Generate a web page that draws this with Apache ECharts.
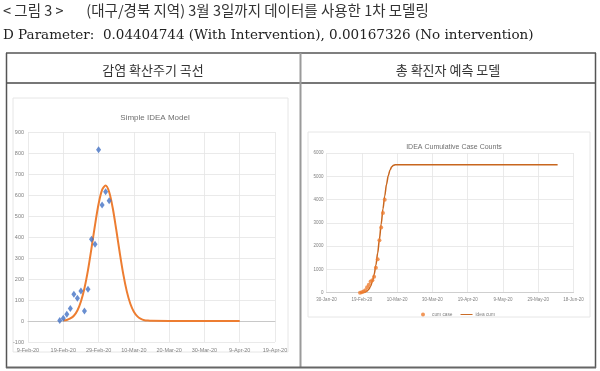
<!DOCTYPE html>
<html><head><meta charset="utf-8">
<script src="https://cdn.jsdelivr.net/npm/echarts@6/dist/echarts.min.js"></script>
<style>html,body{margin:0;padding:0;background:#fff}#c{width:600px;height:371px}</style>
</head><body><div id="c"></div>
<script>
// ---- data ----
const caseDates = ['2020-02-18','2020-02-19','2020-02-20','2020-02-21','2020-02-22','2020-02-23','2020-02-24','2020-02-25','2020-02-26','2020-02-27','2020-02-28','2020-02-29','2020-03-01','2020-03-02','2020-03-03'];
const dailyCases = [2, 13, 32, 60, 127, 108, 143, 48, 151, 389, 365, 815, 552, 616, 573];
const cumCases = [2, 15, 47, 107, 234, 342, 485, 533, 684, 1073, 1438, 2253, 2805, 3421, 3994];

const ideaDates = ['2020-02-19','2020-02-20','2020-02-21','2020-02-22','2020-02-23','2020-02-24','2020-02-25','2020-02-26','2020-02-27','2020-02-28','2020-02-29','2020-03-01','2020-03-02','2020-03-03','2020-03-04','2020-03-05','2020-03-06','2020-03-07','2020-03-08','2020-03-09','2020-03-10','2020-03-11','2020-03-12','2020-03-13','2020-03-14','2020-03-15','2020-03-25','2020-04-09'];
const ideaDaily = [2, 5, 12, 25, 50, 93, 156, 242, 347, 458, 557, 624, 645, 614, 539, 436, 325, 223, 141, 82, 44, 22, 10, 4, 2, 1, 0, 0];

const cumIdeaDates = ['2020-02-18','2020-02-19','2020-02-20','2020-02-21','2020-02-22','2020-02-23','2020-02-24','2020-02-25','2020-02-26','2020-02-27','2020-02-28','2020-02-29','2020-03-01','2020-03-02','2020-03-03','2020-03-04','2020-03-05','2020-03-06','2020-03-07','2020-03-08','2020-03-09','2020-03-10','2020-03-20','2020-04-15','2020-05-15','2020-06-09'];
const cumIdea = [0, 5, 15, 35, 75, 150, 280, 480, 780, 1180, 1700, 2300, 2950, 3600, 4150, 4650, 5020, 5270, 5410, 5470, 5495, 5500, 5500, 5500, 5500, 5500];

const leftXRange = ['2020-02-09', '2020-04-19'];
const rightXRange = ['2020-01-30', '2020-06-18'];

const headingText = '< 그림 3 >       (대구/경북 지역) 3월 3일까지 데이터를 사용한 1차 모델링';
const paramText = 'D Parameter:  0.04404744 (With Intervention), 0.00167326 (No intervention)';
const cellTitles = ['감염 확산주기 곡선', '총 확진자 예측 모델'];
const chartTitles = ['Simple IDEA Model', 'IDEA Cumulative Case Counts'];
const legendNames = ['cum case', 'idea cum'];

// ---- helpers ----
const MONTHS = ['Jan','Feb','Mar','Apr','May','Jun','Jul','Aug','Sep','Oct','Nov','Dec'];
const EPOCH = Date.UTC(1899, 11, 30);
function ser(s) { const [y, m, d] = s.split('-').map(Number); return Math.round((Date.UTC(y, m - 1, d) - EPOCH) / 86400000); }
function fmt(v) { const dt = new Date(EPOCH + v * 86400000); return dt.getUTCDate() + '-' + MONTHS[dt.getUTCMonth()] + '-' + String(dt.getUTCFullYear()).slice(2); }
const plain = v => String(v);
const pairs = (dates, vals) => dates.map((d, i) => [ser(d), vals[i]]);

const NARROW = '"Liberation Sans Narrow", "Liberation Sans", sans-serif';
const SANS = '"Liberation Sans", Arial, sans-serif';
const KR = '"Noto Sans CJK KR", sans-serif';
const GRID_C = '#e4e4e4';
const LBL_C = '#808080';

const chart = echarts.init(document.getElementById('c'), null, { renderer: 'canvas' });
chart.setOption({
  animation: false,
  backgroundColor: '#fff',
  title: [
    { text: chartTitles[0], left: 150, top: 109, textAlign: 'center',
      textStyle: { fontFamily: NARROW, fontSize: 8, fontWeight: 'normal', color: '#6f6f6f' } },
    { text: chartTitles[1], left: 449, top: 139, textAlign: 'center',
      textStyle: { fontFamily: SANS, fontSize: 7, fontWeight: 'normal', color: '#6f6f6f' } }
  ],
  legend: {
    left: 416, top: 307, itemGap: 8, itemWidth: 12, itemHeight: 4,
    textStyle: { fontFamily: SANS, fontSize: 4.8, color: '#808080', padding: [0, 0, 0, -2] },
    data: [
      { name: legendNames[0], icon: 'circle' },
      { name: legendNames[1], icon: 'path://M0,0L20,0L20,1.6L0,1.6Z' }
    ]
  },
  grid: [
    { left: 28, top: 132, width: 247, height: 210, containLabel: false },
    { left: 326.5, top: 153, width: 247, height: 139.7, containLabel: false }
  ],
  xAxis: [
    { type: 'value', gridIndex: 0, min: ser(leftXRange[0]), max: ser(leftXRange[1]), interval: 10,
      axisLine: { onZero: true, lineStyle: { color: '#c8c8c8', width: 1 } },
      axisTick: { show: false },
      axisLabel: { formatter: fmt, fontFamily: NARROW, fontSize: 5.5, color: LBL_C, margin: 5, showMinLabel: true, showMaxLabel: true, hideOverlap: false },
      splitLine: { show: true, lineStyle: { color: GRID_C, width: 0.8 } } },
    { type: 'value', gridIndex: 1, min: ser(rightXRange[0]), max: ser(rightXRange[1]), interval: 20,
      axisLine: { onZero: true, lineStyle: { color: '#cfcfcf', width: 1 } },
      axisTick: { show: false },
      axisLabel: { formatter: fmt, fontFamily: SANS, fontSize: 4.5, color: LBL_C, margin: 5, showMinLabel: true, showMaxLabel: true, hideOverlap: false },
      splitLine: { show: true, lineStyle: { color: GRID_C, width: 0.8 } } }
  ],
  yAxis: [
    { type: 'value', gridIndex: 0, min: -100, max: 900, interval: 100,
      axisLine: { show: false }, axisTick: { show: false },
      axisLabel: { formatter: plain, fontFamily: NARROW, fontSize: 5.5, color: LBL_C, margin: 4 },
      splitLine: { show: true, lineStyle: { color: GRID_C, width: 0.8 } } },
    { type: 'value', gridIndex: 1, min: 0, max: 6000, interval: 1000,
      axisLine: { show: false }, axisTick: { show: false },
      axisLabel: { formatter: plain, fontFamily: SANS, fontSize: 4.5, color: LBL_C, margin: 3 },
      splitLine: { show: true, lineStyle: { color: GRID_C, width: 0.8 } } }
  ],
  series: [
    { name: 'idea', type: 'line', xAxisIndex: 0, yAxisIndex: 0, data: pairs(ideaDates, ideaDaily),
      smooth: 0.3, showSymbol: false, lineStyle: { color: '#ED7D31', width: 2 }, z: 3 },
    { name: 'cases', type: 'scatter', xAxisIndex: 0, yAxisIndex: 0, data: pairs(caseDates, dailyCases),
      symbol: 'diamond', symbolSize: [5, 7], itemStyle: { color: '#4472C4' }, z: 4 },
    { name: legendNames[1], type: 'line', xAxisIndex: 1, yAxisIndex: 1, data: pairs(cumIdeaDates, cumIdea),
      smooth: 0.3, smoothMonotone: 'x', showSymbol: false, lineStyle: { color: '#C8661E', width: 1.5 },
      itemStyle: { color: '#C8661E' }, z: 3 },
    { name: legendNames[0], type: 'scatter', xAxisIndex: 1, yAxisIndex: 1, data: pairs(caseDates, cumCases),
      symbol: 'circle', symbolSize: 4, itemStyle: { color: '#ED7D31' }, z: 4 }
  ],
  graphic: [
    { type: 'text', x: 3, y: 10, style: { text: headingText, font: '14.5px ' + KR, fill: '#333', verticalAlign: 'middle' } },
    { type: 'text', x: 3, y: 35, style: { text: paramText, font: '13.5px "DejaVu Serif", serif', fill: '#222', verticalAlign: 'middle' } },
    { type: 'text', x: 153, y: 70, style: { text: cellTitles[0], font: '13px ' + KR, fill: '#333', align: 'center', verticalAlign: 'middle' } },
    { type: 'text', x: 448, y: 70, style: { text: cellTitles[1], font: '13px ' + KR, fill: '#333', align: 'center', verticalAlign: 'middle' } },
    // table borders
    { type: 'line', shape: { x1: 6, y1: 53, x2: 596, y2: 53 }, style: { stroke: '#555', lineWidth: 1.5 } },
    { type: 'line', shape: { x1: 6, y1: 83, x2: 596, y2: 83 }, style: { stroke: '#777', lineWidth: 2 } },
    { type: 'line', shape: { x1: 6.5, y1: 53, x2: 6.5, y2: 368 }, style: { stroke: '#555', lineWidth: 1.5 } },
    { type: 'line', shape: { x1: 300.5, y1: 53, x2: 300.5, y2: 368 }, style: { stroke: '#9a9a9a', lineWidth: 2 } },
    { type: 'line', shape: { x1: 595.5, y1: 53, x2: 595.5, y2: 368 }, style: { stroke: '#555', lineWidth: 1.5 } },
    { type: 'line', shape: { x1: 6, y1: 367.5, x2: 596, y2: 367.5 }, style: { stroke: '#666', lineWidth: 2 } },
    // embedded chart frames
    { type: 'rect', shape: { x: 13, y: 98, width: 275, height: 254 }, style: { fill: 'none', stroke: '#e6e6e6', lineWidth: 1 } },
    { type: 'rect', shape: { x: 308, y: 132, width: 282, height: 185 }, style: { fill: 'none', stroke: '#e6e6e6', lineWidth: 1 } }
  ]
});
</script>
</body></html>
